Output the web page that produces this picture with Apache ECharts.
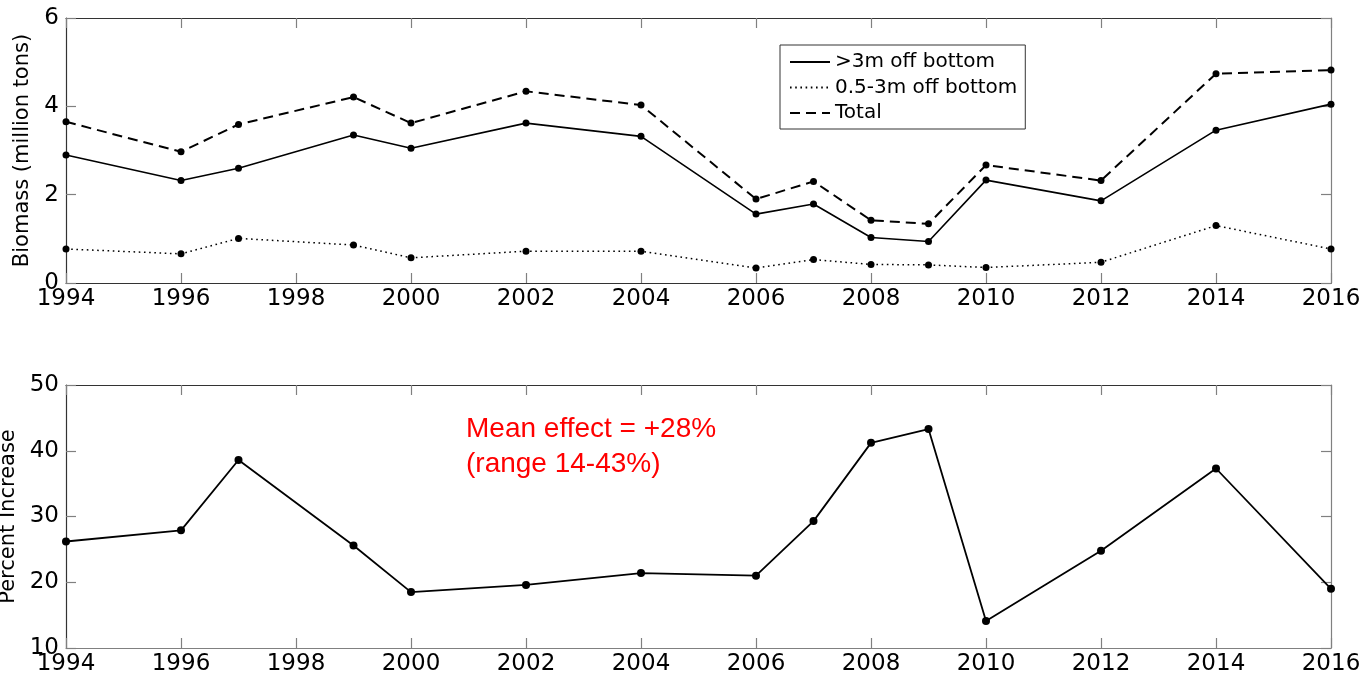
<!DOCTYPE html>
<html>
<head>
<meta charset="utf-8">
<script src="https://cdn.jsdelivr.net/npm/echarts@6/dist/echarts.min.js"></script>
<style>
html,body{margin:0;padding:0;background:#fff;}
#chart{width:1367px;height:676px;}
</style>
</head>
<body>
<div id="chart"></div>
<script>
// ---- data ----
var years = [1994, 1996, 1997, 1999, 2000, 2002, 2004, 2006, 2007, 2008, 2009, 2010, 2012, 2014, 2016];
var above3m = [2.90, 2.32, 2.60, 3.35, 3.05, 3.62, 3.32, 1.56, 1.79, 1.03, 0.94, 2.33, 1.86, 3.46, 4.05];
var between05and3m = [0.77, 0.66, 1.01, 0.86, 0.57, 0.72, 0.72, 0.34, 0.53, 0.42, 0.41, 0.35, 0.47, 1.30, 0.77];
var total = [3.65, 2.97, 3.59, 4.21, 3.62, 4.34, 4.03, 1.90, 2.30, 1.42, 1.34, 2.67, 2.32, 4.74, 4.82];
var percentIncrease = [26.2, 27.9, 38.6, 25.6, 18.5, 19.6, 21.4, 21.0, 29.3, 41.2, 43.3, 14.1, 24.8, 37.3, 19.0];
var seriesNames = ['>3m off bottom', '0.5-3m off bottom', 'Total'];
var annotation = ['Mean effect = +28%', '(range 14-43%)'];

function pairs(xs, ys) { return xs.map(function (x, i) { return [x, ys[i]]; }); }

var FONT = 'DejaVu Sans';
var darkLine = '#333333';
var grayLine = '#808080';

function xAxisDef(gridIndex, position, showLabels, color) {
  return {
    type: 'value', gridIndex: gridIndex, position: position,
    min: 1994, max: 2016, interval: 2,
    axisLine: { show: true, onZero: false, lineStyle: { color: color, width: 1.2 } },
    axisTick: { show: true, inside: true, length: 10, lineStyle: { color: grayLine, width: 1.2 } },
    axisLabel: { show: showLabels, margin: 5, color: '#000', fontFamily: FONT, fontSize: 23,
      formatter: function (v) { return String(v); } },
    splitLine: { show: false }
  };
}
function yAxisDef(gridIndex, position, showLabels, min, max, interval, color, name, nameGap) {
  return {
    type: 'value', gridIndex: gridIndex, position: position,
    min: min, max: max, interval: interval,
    name: name || '', nameLocation: 'middle', nameGap: nameGap || 0,
    nameTextStyle: { color: '#000', fontFamily: FONT, fontSize: 21 },
    axisLine: { show: true, onZero: false, lineStyle: { color: color, width: 1.2 } },
    axisTick: { show: true, inside: true, length: 10, lineStyle: { color: grayLine, width: 1.2 } },
    axisLabel: { show: showLabels, margin: 7, color: '#000', fontFamily: FONT, fontSize: 23 },
    splitLine: { show: false }
  };
}

var chart = echarts.init(document.getElementById('chart'));
chart.setOption({
  animation: false,
  backgroundColor: '#fff',
  title: {
    text: annotation.join('\n'),
    left: 461, top: 407,
    textStyle: { color: '#ff0000', fontFamily: 'Liberation Sans', fontWeight: 'normal', fontSize: 28, lineHeight: 35 }
  },
  legend: {
    orient: 'vertical', left: 780, top: 45,
    data: seriesNames,
    padding: [7, 8, 6, 9],
    itemGap: 5.5, itemWidth: 40, itemHeight: 14,
    borderColor: '#333', borderWidth: 1,
    backgroundColor: '#fff',
    itemStyle: { opacity: 0 },
    textStyle: { color: '#000', fontFamily: FONT, fontSize: 20, lineHeight: 19 }
  },
  grid: [
    { left: 66, top: 18, width: 1265, height: 265, containLabel: false, outerBoundsMode: 'none' },
    { left: 66, top: 385, width: 1265, height: 263, containLabel: false, outerBoundsMode: 'none' }
  ],
  xAxis: [
    xAxisDef(0, 'bottom', true, darkLine),
    xAxisDef(0, 'top', false, darkLine),
    xAxisDef(1, 'bottom', true, grayLine),
    xAxisDef(1, 'top', false, darkLine)
  ],
  yAxis: [
    yAxisDef(0, 'left', true, 0, 6, 2, darkLine, 'Biomass (million tons)', 25),
    yAxisDef(0, 'right', false, 0, 6, 2, grayLine),
    yAxisDef(1, 'left', true, 10, 50, 10, darkLine, 'Percent Increase', 43),
    yAxisDef(1, 'right', false, 10, 50, 10, grayLine)
  ],
  series: [
    {
      name: seriesNames[0], type: 'line', xAxisIndex: 0, yAxisIndex: 0,
      data: pairs(years, above3m),
      symbol: 'circle', symbolSize: 7,
      itemStyle: { color: '#000' },
      lineStyle: { color: '#000', width: 1.6, type: 'solid' }
    },
    {
      name: seriesNames[1], type: 'line', xAxisIndex: 0, yAxisIndex: 0,
      data: pairs(years, between05and3m),
      symbol: 'circle', symbolSize: 7,
      itemStyle: { color: '#000' },
      lineStyle: { color: '#000', width: 1.5, type: [1.6, 3.6] }
    },
    {
      name: seriesNames[2], type: 'line', xAxisIndex: 0, yAxisIndex: 0,
      data: pairs(years, total),
      symbol: 'circle', symbolSize: 7,
      itemStyle: { color: '#000' },
      lineStyle: { color: '#000', width: 2, type: [10, 6] }
    },
    {
      name: 'Percent Increase', type: 'line', xAxisIndex: 2, yAxisIndex: 2,
      data: pairs(years, percentIncrease),
      symbol: 'circle', symbolSize: 8,
      itemStyle: { color: '#000' },
      lineStyle: { color: '#000', width: 1.8 }
    }
  ]
});
</script>
</body>
</html>
